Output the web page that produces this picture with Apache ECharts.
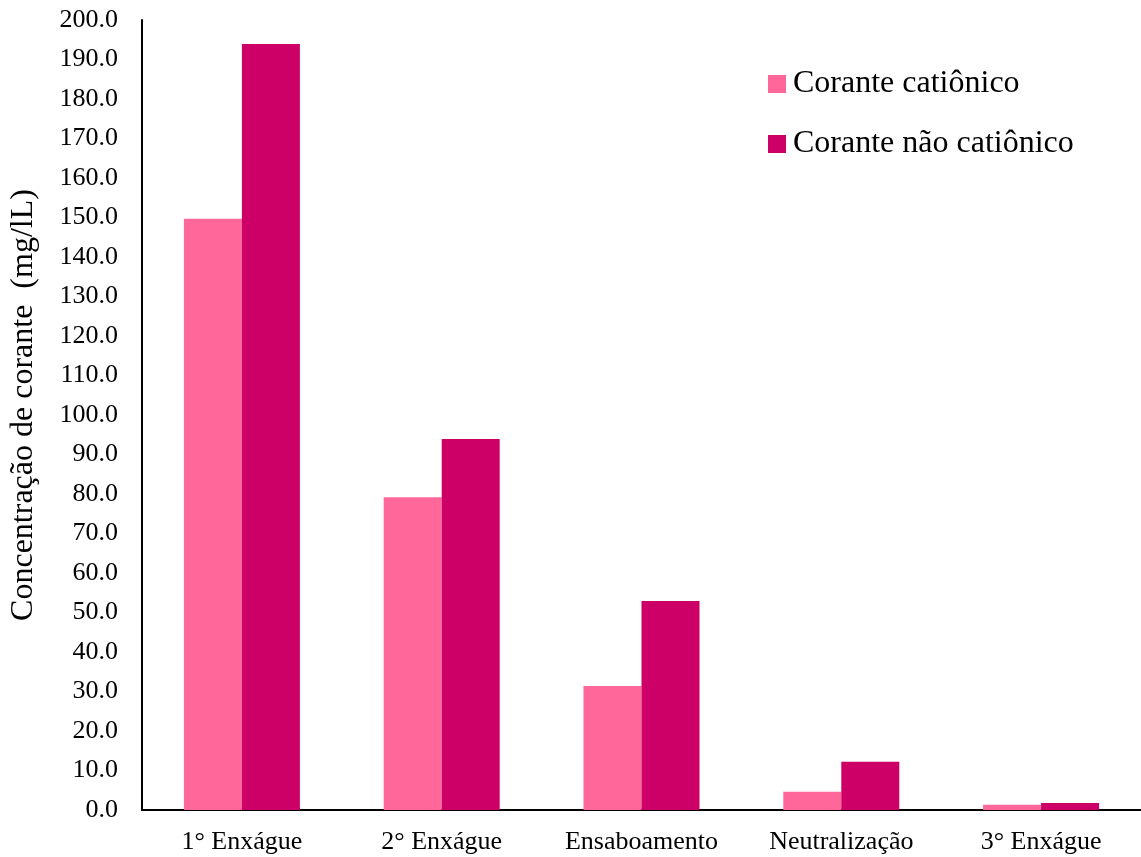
<!DOCTYPE html>
<html>
<head>
<meta charset="utf-8">
<script src="https://cdn.jsdelivr.net/npm/echarts@6/dist/echarts.min.js"></script>
<style>
  html, body { margin: 0; padding: 0; background: #fff; }
  #chart { width: 1141px; height: 857px; }
</style>
</head>
<body>
<div id="chart"></div>
<script>
// Etapas do processo de lavagem
const categories = ['1° Enxágue', '2° Enxágue', 'Ensaboamento', 'Neutralização', '3° Enxágue'];
// Concentração de corante (mg/L) em cada etapa
const cationico = [149.7, 79.2, 31.4, 4.6, 1.3];
const naoCationico = [193.9, 93.9, 52.9, 12.2, 1.8];
const seriesNames = ['Corante catiônico', 'Corante não catiônico'];

const font = '"Liberation Serif", "Times New Roman", serif';

const chart = echarts.init(document.getElementById('chart'));
chart.setOption({
  animation: false,
  textStyle: { fontFamily: font },
  grid: { left: 142, right: 0, top: 20, bottom: 47, containLabel: false, outerBoundsMode: 'none' },
  legend: {
    orient: 'vertical',
    left: 768,
    top: 68,
    padding: 0,
    itemWidth: 18,
    itemHeight: 18,
    itemGap: 28,
    icon: 'rect',
    textStyle: { fontFamily: font, fontSize: 32, lineHeight: 32, color: '#000', padding: [0, 0, 0, 2] },
    data: seriesNames
  },
  xAxis: {
    type: 'category',
    data: categories,
    axisLine: { lineStyle: { color: '#000', width: 2 } },
    axisTick: { show: false },
    axisLabel: { fontFamily: font, fontSize: 26, color: '#000', margin: 19 }
  },
  yAxis: {
    type: 'value',
    min: 0,
    max: 200,
    interval: 10,
    name: 'Concentração de corante  (mg/lL)',
    nameLocation: 'middle',
    nameGap: 102,
    nameTextStyle: { fontFamily: font, fontSize: 32, color: '#000', padding: [0, 0, 0, 20] },
    axisLine: { show: true, lineStyle: { color: '#000', width: 2 } },
    axisTick: { show: false },
    splitLine: { show: false },
    axisLabel: {
      fontFamily: font, fontSize: 26, color: '#000', margin: 24,
      formatter: v => v.toFixed(1)
    }
  },
  series: [
    {
      name: seriesNames[0],
      type: 'bar',
      data: cationico,
      itemStyle: { color: '#FF6699' },
      barWidth: 58,
      barGap: '0%'
    },
    {
      name: seriesNames[1],
      type: 'bar',
      data: naoCationico,
      itemStyle: { color: '#CC0066' },
      barWidth: 58,
      barGap: '0%'
    }
  ]
});
</script>
</body>
</html>
